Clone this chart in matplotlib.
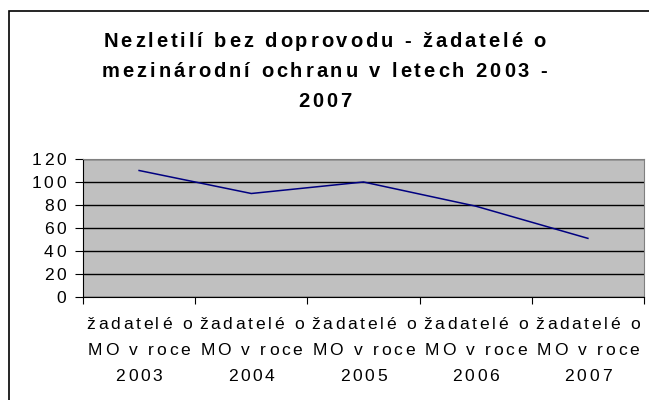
import matplotlib
matplotlib.use('Agg')
import matplotlib.pyplot as plt
from matplotlib.patches import Rectangle
from matplotlib.font_manager import FontProperties, findfont, get_font
from matplotlib.transforms import IdentityTransform

plt.rcParams['font.family'] = ['Liberation Sans', 'DejaVu Sans']

categories = ['žadatelé o\nMO v roce\n2003', 'žadatelé o\nMO v roce\n2004',
              'žadatelé o\nMO v roce\n2005', 'žadatelé o\nMO v roce\n2006',
              'žadatelé o\nMO v roce\n2007']
values = [110, 90, 100, 79, 51]
y_ticks = [0, 20, 40, 60, 80, 100, 120]
title = 'Nezletilí bez doprovodu - žadatelé o\nmezinárodní ochranu v letech 2003 -\n2007'

W, H, DPI = 649, 400, 100
fig = plt.figure(figsize=(W / DPI, H / DPI), dpi=DPI)
fig.patch.set_facecolor('white')


def advances(s, size, weight):
    # horizontal advance of every character, in pixels
    prop = FontProperties(family='Liberation Sans', weight=weight)
    font = get_font(findfont(prop))
    font.set_size(size, DPI)
    return [font.load_char(ord(c)).linearHoriAdvance / 65536 for c in s]


def spaced_text(s, x, y_top, size, tracking, weight='normal', ha='center'):
    # Excel style letter-spaced text, x/y in pixels from the top left
    adv = advances(s, size, weight)
    total = sum(adv) + tracking * (len(s) - 1)
    if ha == 'center':
        x0 = x - total / 2
    elif ha == 'right':
        x0 = x - total
    else:
        x0 = x
    for c, a in zip(s, adv):
        if c != ' ':
            fig.text(x0, H - y_top, c, transform=IdentityTransform(),
                     fontsize=size, fontweight=weight, ha='left', va='baseline')
        x0 += a + tracking


# outer chart border
fig.add_artist(Rectangle((9 / W, -0.01), 1.0, 1 - 11 / H + 0.01,
                         transform=fig.transFigure, fill=False,
                         edgecolor='black', linewidth=1.2))

ax = fig.add_axes([83 / W, 1 - 297 / H, (644 - 83) / W, (297 - 159) / H])
ax.set_facecolor('#C0C0C0')

x = list(range(len(values)))
ax.plot(x, values, color='#000080', linewidth=1.1, zorder=3)

ax.set_xlim(-0.5, len(values) - 0.5)
ax.set_ylim(0, 120)
ax.set_yticks(y_ticks)
ax.set_yticklabels([])
ax.yaxis.grid(True, color='black', linewidth=1.0)
ax.set_axisbelow(True)
ax.set_xticks([i - 0.5 for i in range(len(values) + 1)])
ax.set_xticklabels([])
ax.tick_params(axis='x', length=5, direction='out', color='black')
ax.tick_params(axis='y', length=6, direction='out', color='black')

for side in ['top', 'right']:
    ax.spines[side].set_color('#808080')
ax.spines['left'].set_color('black')
ax.spines['bottom'].set_color('black')

label_size = 12.6
label_track = 2.7

# y tick labels
for v in y_ticks:
    px, py = ax.transData.transform((-0.5, v))
    spaced_text(str(v), px - 17, H - py + 6, label_size, label_track, ha='right')

# category labels
for i, cat in enumerate(categories):
    px, py = ax.transData.transform((i, 0))
    for j, line in enumerate(cat.split('\n')):
        spaced_text(line, px, 329 + j * 26, label_size, label_track)

# title
title_size = 14.5
title_track = 2.9
for j, line in enumerate(title.split('\n')):
    spaced_text(line, W / 2, 47 + j * 30, title_size, title_track, weight='bold')

fig.savefig('out.png', dpi=DPI)
